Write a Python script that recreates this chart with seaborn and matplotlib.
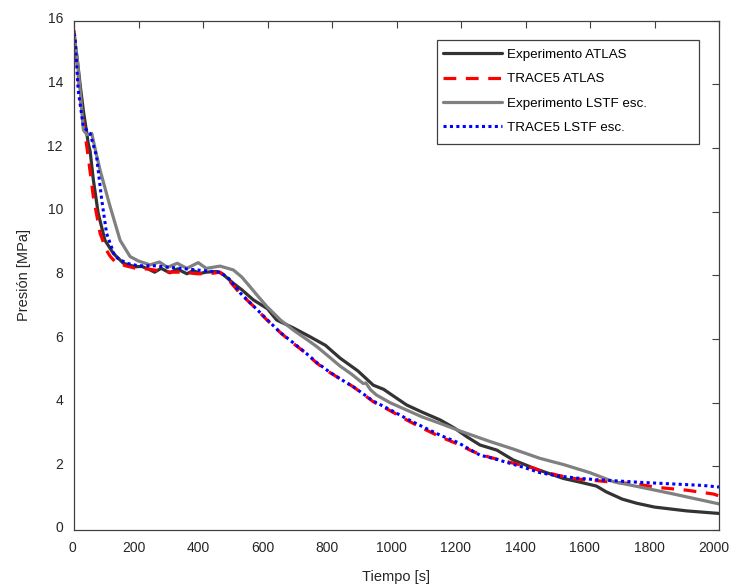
import numpy as np
import pandas as pd
import matplotlib
matplotlib.use("Agg")
import matplotlib.pyplot as plt
import matplotlib.transforms as mtransforms
from matplotlib.patches import Rectangle
import seaborn as sns

# ---- data ----
t_atlas_exp = [0, 10, 20, 30, 40, 44, 50, 60, 75, 96, 122, 153, 190, 210, 230, 250, 270, 297, 320,
               350, 370, 390, 410, 442, 460, 494, 520, 556, 600, 628, 680, 732, 780, 825, 880, 928,
               960, 1031, 1080, 1135, 1180, 1218, 1259, 1311, 1362, 1426, 1480, 1517, 1570, 1620,
               1650, 1700, 1745, 1800, 1900, 2000]
p_atlas_exp = [15.5, 14.8, 13.9, 13.1, 12.45, 12.15, 11.9, 11.0, 9.95, 9.1, 8.69, 8.38, 8.27, 8.28,
               8.2, 8.1, 8.22, 8.08, 8.2, 8.05, 8.15, 8.06, 8.1, 8.12, 8.05, 7.75, 7.55, 7.23, 6.95,
               6.6, 6.35, 6.07, 5.8, 5.4, 5.0, 4.55, 4.42, 3.93, 3.7, 3.46, 3.2, 2.93, 2.67, 2.51,
               2.2, 1.94, 1.75, 1.62, 1.5, 1.38, 1.2, 0.97, 0.84, 0.72, 0.6, 0.52]

t_atlas_trace = [0, 10, 24, 34, 44, 60, 81, 100, 112, 130, 160, 200, 230, 260, 300, 340, 380, 420,
                 453, 480, 515, 560, 598, 640, 680, 720, 753, 790, 825, 866, 928, 980, 1031, 1080,
                 1135, 1190, 1238, 1290, 1342, 1426, 1445, 1500, 1560, 1620, 1672, 1740, 1807, 1900,
                 1983, 2000]
p_atlas_trace = [15.7, 14.6, 13.2, 12.46, 11.73, 10.47, 9.32, 8.8, 8.6, 8.4, 8.3, 8.2, 8.2, 8.15,
                 8.1, 8.1, 8.05, 8.05, 8.1, 7.85, 7.43, 7.0, 6.6, 6.2, 5.86, 5.55, 5.24, 4.97, 4.75,
                 4.5, 4.03, 3.75, 3.46, 3.2, 2.93, 2.7, 2.46, 2.28, 2.15, 1.94, 1.86, 1.72, 1.6,
                 1.55, 1.5, 1.45, 1.34, 1.25, 1.13, 1.07]

t_lstf_exp = [0, 10, 20, 29, 40, 55, 65, 81, 100, 112, 143, 174, 200, 236, 265, 290, 320, 350, 385,
              410, 453, 494, 520, 546, 570, 598, 640, 680, 720, 753, 790, 825, 860, 897, 905, 920,
              938, 980, 1031, 1080, 1135, 1200, 1290, 1360, 1445, 1520, 1600, 1672, 1750, 1850,
              1950, 2000]
p_lstf_exp = [15.6, 14.8, 13.7, 12.57, 12.42, 12.46, 12.0, 11.3, 10.6, 10.16, 9.1, 8.59, 8.45, 8.33,
              8.42, 8.25, 8.38, 8.22, 8.4, 8.22, 8.29, 8.17, 7.95, 7.64, 7.35, 7.02, 6.6, 6.28, 6.0,
              5.76, 5.45, 5.15, 4.9, 4.6, 4.62, 4.4, 4.24, 4.0, 3.77, 3.55, 3.35, 3.1, 2.78, 2.55,
              2.25, 2.05, 1.8, 1.52, 1.36, 1.15, 0.93, 0.82]

t_lstf_trace = [0, 3, 13, 29, 50, 70, 86, 101, 127, 163, 200, 250, 300, 350, 400, 453, 480, 515,
                560, 598, 640, 680, 720, 753, 790, 825, 866, 928, 980, 1031, 1080, 1135, 1190,
                1259, 1300, 1350, 1400, 1445, 1500, 1560, 1620, 1672, 1750, 1850, 1950, 2000]
p_lstf_trace = [15.6, 15.5, 13.82, 12.67, 12.46, 11.73, 10.37, 9.32, 8.59, 8.38, 8.3, 8.3, 8.25,
                8.2, 8.15, 8.1, 7.9, 7.45, 7.0, 6.62, 6.2, 5.88, 5.55, 5.26, 4.98, 4.75, 4.5, 4.05,
                3.78, 3.5, 3.25, 2.98, 2.75, 2.35, 2.25, 2.1, 1.95, 1.8, 1.7, 1.63, 1.58, 1.55,
                1.5, 1.45, 1.4, 1.35]

labels = ["Experimento ATLAS", "TRACE5 ATLAS", "Experimento LSTF esc.", "TRACE5 LSTF esc."]
series = [(t_atlas_exp, p_atlas_exp), (t_atlas_trace, p_atlas_trace),
          (t_lstf_exp, p_lstf_exp), (t_lstf_trace, p_lstf_trace)]
colors = ["#333333", "#ff0000", "#808080", "#0000ff"]
styles = ["-", (0, (4, 3)), "-", (0, (1, 1.1))]
widths = [2.3, 2.3, 2.3, 2.2]

sns.set_style("white")
plt.rcParams["font.family"] = ["Liberation Sans", "DejaVu Sans"]

fig = plt.figure(figsize=(7.31, 5.87), dpi=100)
ax = fig.add_axes([74 / 731, 1 - 530 / 587, (719 - 74) / 731, (530 - 20.7) / 587])

for (t, p), lab, c, ls, lw in zip(series, labels, colors, styles, widths):
    df = pd.DataFrame({"t": t, "p": p})
    sns.lineplot(data=df, x="t", y="p", ax=ax, color=c, linestyle=ls, linewidth=lw,
                 label=lab, sort=False, estimator=None)

ax.set_xlim(0, 2000)
ax.set_ylim(0, 16)
ax.set_xticks(np.arange(0, 2001, 200))
ax.set_yticks(np.arange(0, 17, 2))
for s in ax.spines.values():
    s.set_color("#404040")
    s.set_linewidth(0.9)
ax.tick_params(direction="in", length=5, width=0.8, color="#404040", top=True, right=True,
               labelsize=10, labelcolor="#262626", pad=8)
ax.set_xlabel("Tiempo [s]", fontsize=10.5, color="#262626", labelpad=11)
ax.set_ylabel("Presión [MPa]", fontsize=10.5, color="#262626", labelpad=12)

# MATLAB-like label placement quirks: x labels sit slightly left, y labels slightly up
xoff = {1: -1.3, 2: -3.0, 3: -4.5, 4: -5.2}
for lbl, val in zip(ax.get_xticklabels(), ax.get_xticks()):
    n = len(str(int(val)))
    lbl.set_transform(lbl.get_transform() +
                      mtransforms.ScaledTranslation(xoff[n] / 100, 0, fig.dpi_scale_trans))
for lbl in ax.get_yticklabels():
    lbl.set_transform(lbl.get_transform() +
                      mtransforms.ScaledTranslation(0, 3 / 100, fig.dpi_scale_trans))

# legend frame (MATLAB style, with wide right padding)
ax_w, ax_h = 645.0, 509.3
frame = Rectangle(((437 - 74) / ax_w, (530 - 144) / ax_h), (699 - 437) / ax_w, (144 - 40) / ax_h,
                  transform=ax.transAxes, facecolor="white", edgecolor="#404040", linewidth=0.9,
                  zorder=4)
ax.add_patch(frame)
leg = ax.legend(loc="upper left", bbox_to_anchor=((443 - 74) / ax_w, (530 - 48.5) / ax_h),
                fontsize=9.6, frameon=False, handlelength=4.4, labelspacing=0.9,
                borderpad=0, handletextpad=0.4, borderaxespad=0)
leg.set_zorder(5)
for txt in leg.get_texts():
    txt.set_color("#000000")

fig.savefig("out.png", dpi=100)
